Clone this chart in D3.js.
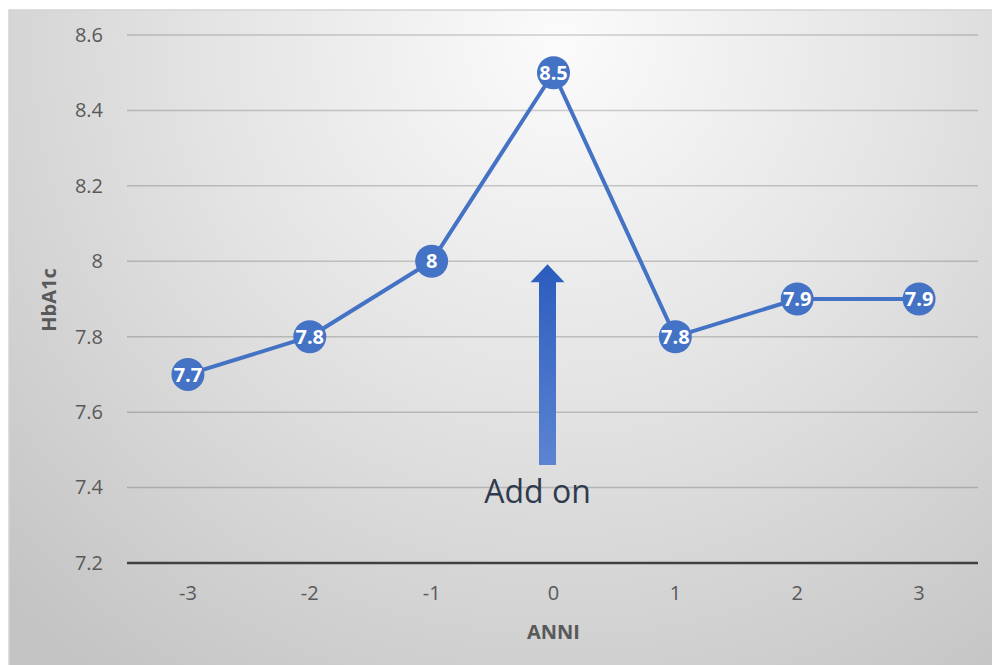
<!DOCTYPE html>
<html>
<head>
<meta charset="utf-8">
<script src="https://cdn.jsdelivr.net/npm/d3@7"></script>
<style>
  html, body { margin: 0; padding: 0; background: #ffffff; }
  svg { display: block; }
  text { font-family: "Open Sans", "Noto Sans", sans-serif; }
</style>
</head>
<body>
<svg id="chart" width="992" height="665"></svg>
<script>
const categories = ["-3", "-2", "-1", "0", "1", "2", "3"];
const values = [7.7, 7.8, 8.0, 8.5, 7.8, 7.9, 7.9];
const valueLabels = ["7.7", "7.8", "8", "8.5", "7.8", "7.9", "7.9"];
const yTicks = [7.2, 7.4, 7.6, 7.8, 8.0, 8.2, 8.4, 8.6];
const yTickLabels = ["7.2", "7.4", "7.6", "7.8", "8", "8.2", "8.4", "8.6"];
const xTitle = "ANNI";
const yTitle = "HbA1c";
const annotationText = "Add on";
const arrowFrom = 7.46, arrowTo = 8.0;
const arrowCategory = "0";

(function () {
const svg = d3.select("#chart");
const defs = svg.append("defs");

const bg = defs.append("radialGradient").attr("id", "bg")
  .attr("gradientUnits", "userSpaceOnUse")
  .attr("cx", 560).attr("cy", 40).attr("r", 780);
bg.append("stop").attr("offset", "0%").attr("stop-color", "#fbfbfb");
bg.append("stop").attr("offset", "45%").attr("stop-color", "#e4e4e4");
bg.append("stop").attr("offset", "100%").attr("stop-color", "#c4c4c4");

const ag = defs.append("linearGradient").attr("id", "arrowGrad")
  .attr("x1", 0).attr("y1", 0).attr("x2", 0).attr("y2", 1);
ag.append("stop").attr("offset", "0%").attr("stop-color", "#2b5cbd");
ag.append("stop").attr("offset", "100%").attr("stop-color", "#5c84d2");

svg.append("rect").attr("x", 9).attr("y", 10).attr("width", 990).attr("height", 660)
  .attr("fill", "url(#bg)").attr("stroke", "#d4d4d4").attr("stroke-width", 1.5);

const pLeft = 127, pRight = 980, pTop = 35, pBottom = 563;
const x = d3.scaleBand().domain(categories).range([pLeft, pRight]);
const y = d3.scaleLinear().domain([7.2, 8.6]).range([pBottom, pTop]);

// gridlines
const grid = svg.append("g");
grid.selectAll("line").data(yTicks.filter(d => d > 7.2)).join("line")
  .attr("x1", pLeft).attr("x2", pRight - 2)
  .attr("y1", d => y(d)).attr("y2", d => y(d))
  .attr("stroke", "rgba(0,0,0,0.18)").attr("stroke-width", 1.5);

// y axis labels
const yAxis = d3.axisLeft(y).tickValues(yTicks)
  .tickFormat((d, i) => yTickLabels[i]).tickSize(0).tickPadding(24);
const gy = svg.append("g").attr("transform", `translate(${pLeft},0)`).call(yAxis);
gy.select(".domain").remove();
gy.selectAll("text").attr("font-size", 20).attr("fill", "#595959")
  .style("font-family", "'Open Sans', sans-serif");

// x axis
const xAxis = d3.axisBottom(x).tickSize(0).tickPadding(23);
const gx = svg.append("g").attr("transform", `translate(0,${pBottom})`).call(xAxis);
gx.select(".domain").attr("stroke", "#404040").attr("stroke-width", 2.5)
  .attr("d", `M${pLeft},0H${pRight - 2}`);
gx.selectAll("text").attr("font-size", 20).attr("fill", "#595959")
  .style("font-family", "'Open Sans', sans-serif");

// axis titles
svg.append("text").attr("x", x("0") + x.bandwidth() / 2).attr("y", 639)
  .attr("text-anchor", "middle").attr("font-size", 20).attr("font-weight", "bold")
  .attr("fill", "#595959").text(xTitle);
svg.append("text").attr("transform", `translate(56,${(pTop + pBottom) / 2 + 1}) rotate(-90)`)
  .attr("text-anchor", "middle").attr("font-size", 20).attr("font-weight", "bold")
  .attr("fill", "#595959").text(yTitle);

// arrow annotation
const ax = x(arrowCategory) + x.bandwidth() / 2 - 6;
const tipY = y(arrowTo) + 3, tailY = y(arrowFrom);
const headH = 18, headW = 17, shaftW = 8.5;
svg.append("path")
  .attr("d", `M${ax},${tipY} L${ax + headW},${tipY + headH} L${ax + shaftW},${tipY + headH} L${ax + shaftW},${tailY} L${ax - shaftW},${tailY} L${ax - shaftW},${tipY + headH} L${ax - headW},${tipY + headH} Z`)
  .attr("fill", "url(#arrowGrad)");
svg.append("text").attr("x", ax - 10).attr("y", 503).attr("text-anchor", "middle")
  .attr("font-size", 32).attr("fill", "#2e3a4d").text(annotationText);

// line
const cx = (d, i) => x(categories[i]) + x.bandwidth() / 2;
const line = d3.line().x((d, i) => cx(d, i)).y(d => y(d));
svg.append("path").datum(values).attr("d", line)
  .attr("fill", "none").attr("stroke", "#4472c4").attr("stroke-width", 4)
  .attr("stroke-linejoin", "round");

// markers
const pts = svg.append("g");
pts.selectAll("circle").data(values).join("circle")
  .attr("cx", cx).attr("cy", d => y(d)).attr("r", 16.5)
  .attr("fill", "#4472c4");
pts.selectAll("text").data(values).join("text")
  .attr("x", cx).attr("y", d => y(d)).attr("dy", "0.36em")
  .attr("text-anchor", "middle").attr("font-size", 20).attr("font-weight", "bold")
  .attr("fill", "#ffffff").text((d, i) => valueLabels[i]);
})();
</script>
</body>
</html>
